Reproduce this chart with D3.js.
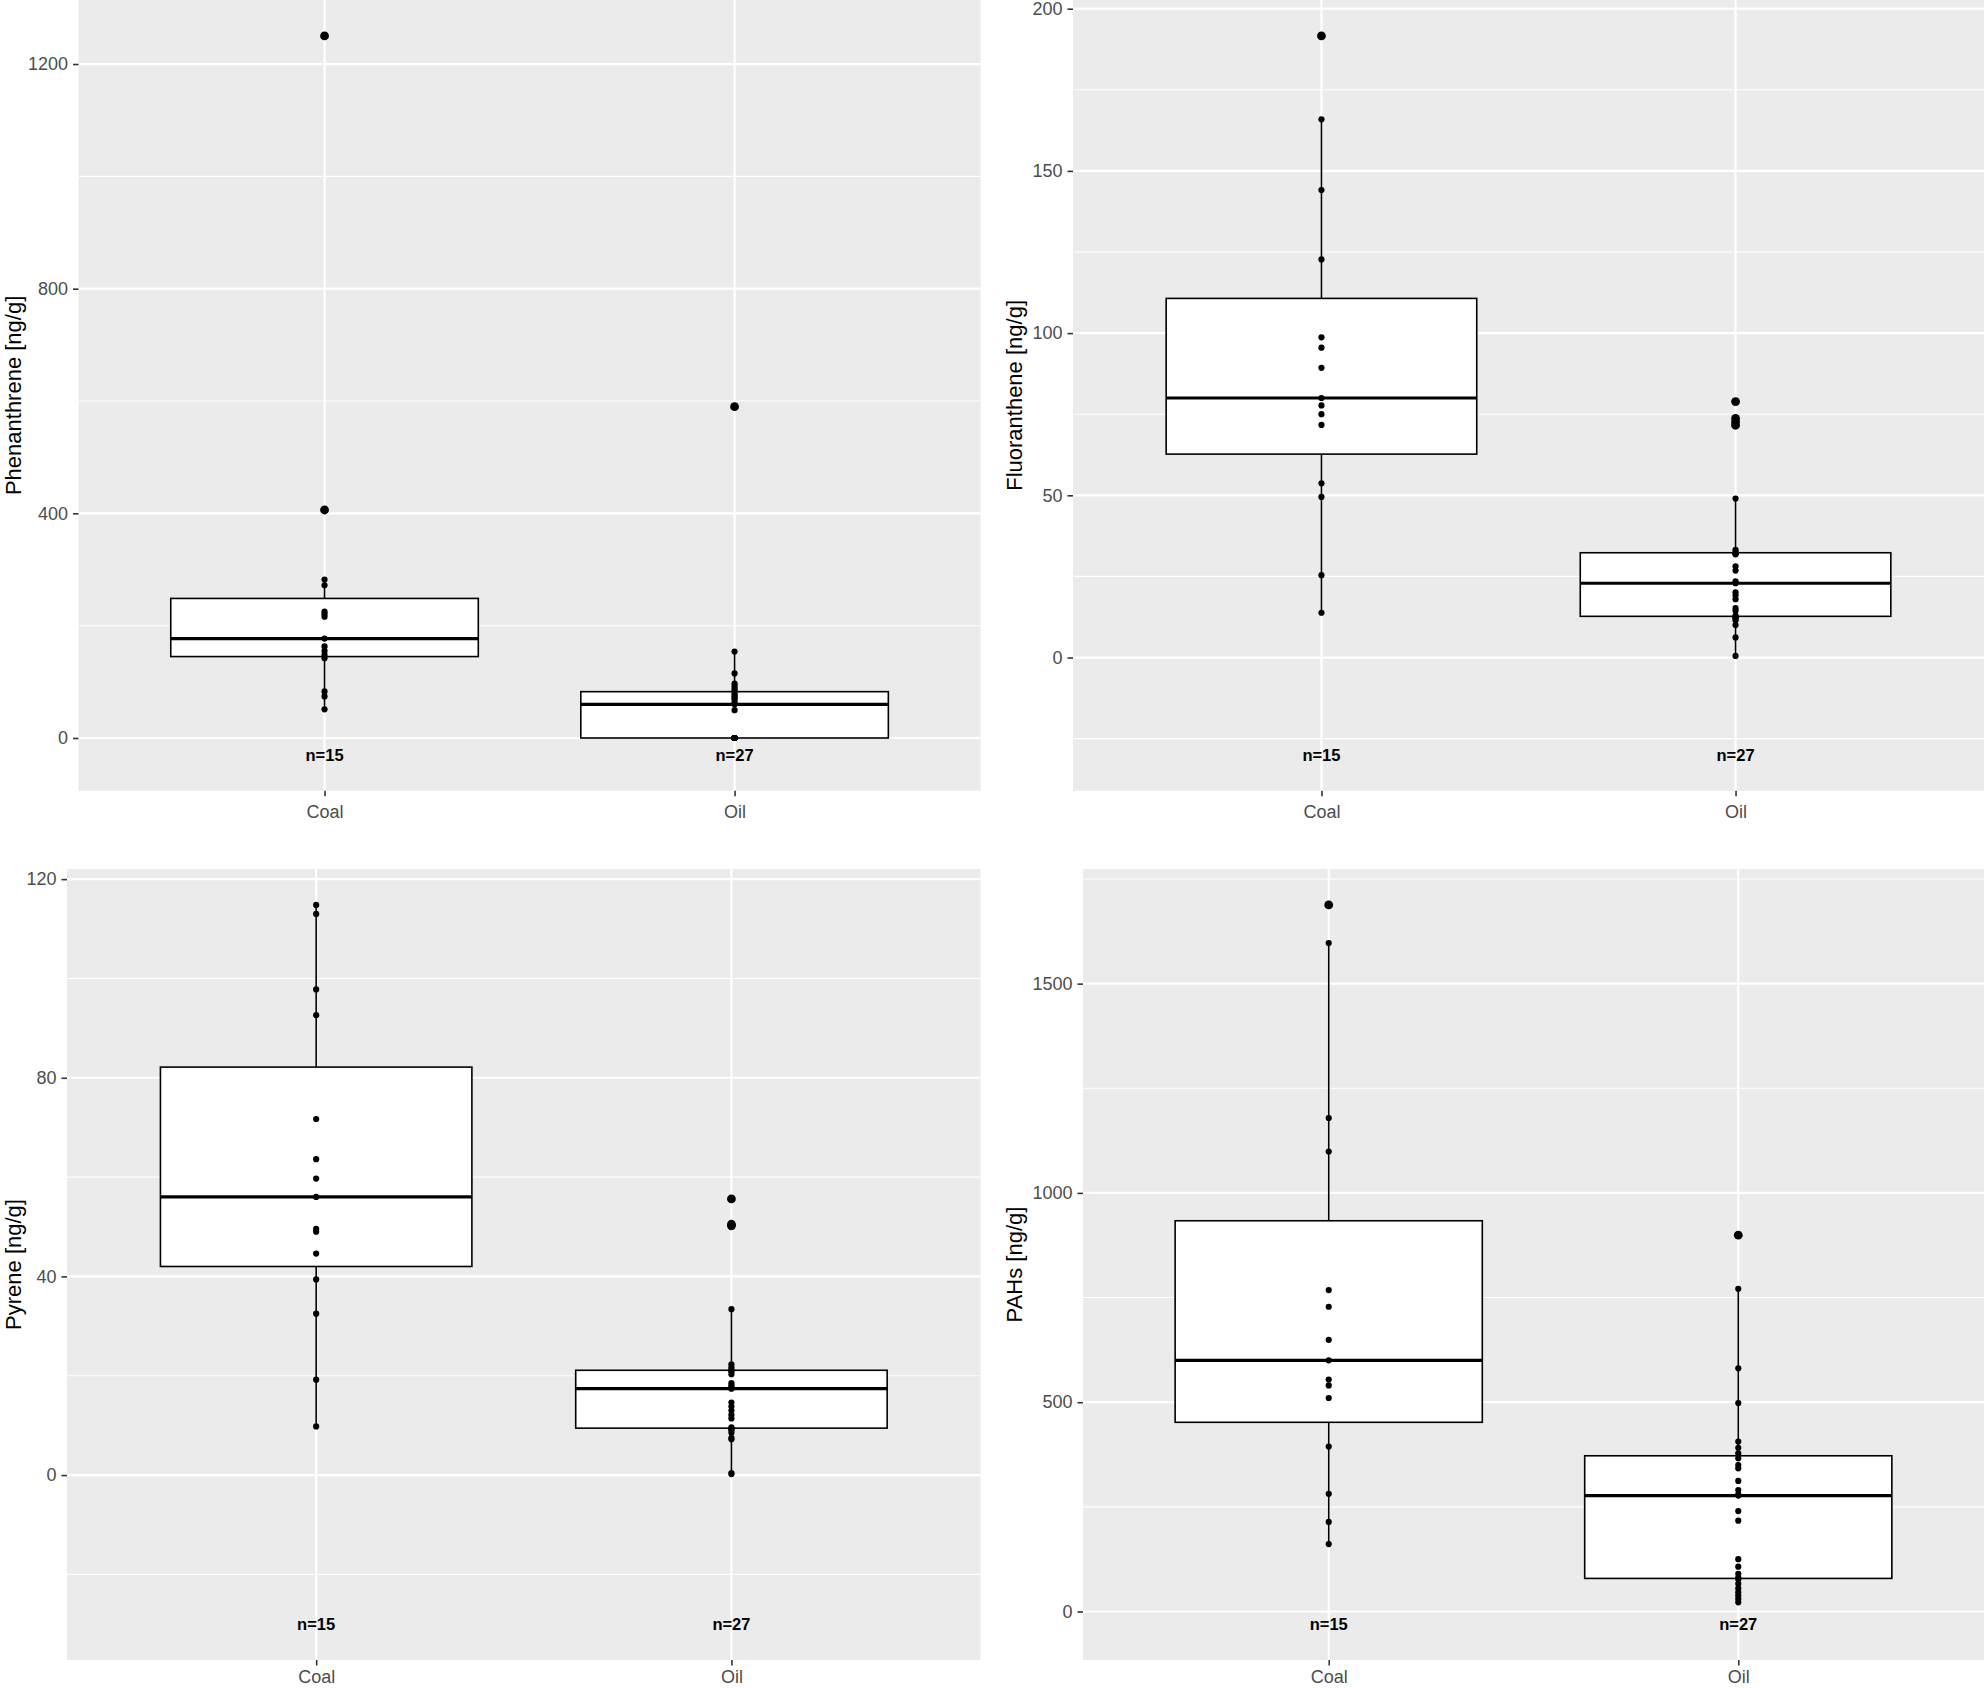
<!DOCTYPE html>
<html>
<head>
<meta charset="utf-8">
<script src="https://cdn.jsdelivr.net/npm/d3@7"></script>
<style>
  body { margin: 0; background: #fff; }
  svg { display: block; font-family: "Liberation Sans", Arial, sans-serif; }
</style>
</head>
<body>
<svg id="chart"></svg>
<script>
// categories
var groups = ["Coal", "Oil"];

var phenCoal = [51, 74, 83, 142, 148, 155, 163, 177, 216, 221, 225, 272, 282, 406, 1250];
var phenOil = [0, 0, 0, 0, 0, 0, 0, 0, 0, 0, 0, 0, 49.5, 60, 63, 68, 71, 74, 77, 80, 85, 89, 93, 97, 115, 154, 590];

var fluoCoal = [13.8, 25.4, 49.5, 53.7, 71.7, 75, 77.7, 80, 89.3, 95.5, 98.7, 122.7, 144.1, 165.9, 191.6];
var fluoOil = [0.5, 6.2, 10, 11.5, 12.1, 12.4, 12.5, 12.9, 14.4, 15.2, 18.0, 19.2, 20.1, 22.9,
               23.5, 26.8, 28.1, 31.8, 32.0, 32.1, 32.5, 33.2, 49, 71.6, 72.6, 73.7, 78.9];

var pyrCoal = [9.8, 19.2, 32.5, 39.4, 44.6, 49.0, 49.6, 56, 59.7, 63.6, 71.7, 92.6, 97.8, 113, 114.8];
var pyrOil = [0.2, 0.4, 7.2, 7.5, 8.5, 9.0, 9.3, 9.6, 11.4, 12.1, 13, 13.8, 14.6, 17.4,
              17.7, 18.0, 18.5, 20.3, 20.8, 21.0, 21.2, 21.7, 22.3, 33.4, 50.2, 50.5, 55.6];

var pahCoal = [161, 214, 281, 394, 510, 540, 554, 600, 649, 728, 768, 1099, 1179, 1597, 1688];
var pahOil = [22, 30, 38, 46, 55, 66, 77, 81, 90, 107, 125, 217, 240, 277,
              280, 290, 312, 342, 350, 366, 378, 391, 406, 498, 581, 771, 899];

// tick labels
var phenTicks = [0, 400, 800, 1200];
var fluoTicks = [0, 50, 100, 150, 200];
var pyrTicks = [0, 40, 80, 120];
var pahTicks = [0, 500, 1000, 1500];

var yTitles = ["Phenanthrene [ng/g]", "Fluoranthene [ng/g]", "Pyrene [ng/g]", "PAHs [ng/g]"];
var countLabelY = -30;

var width = 1984,
    height = 1688;

var svg = d3.select('#chart').attr('width', width).attr('height', height);
svg.append('rect').attr('width', width).attr('height', height).attr('fill', '#fff');

var panels = [
  {coal: phenCoal, oil: phenOil, ticks: phenTicks, title: yTitles[0], left: 78.5, right: 980.6, top: 0, bottom: 790.8, titleX: 20.5, xPad: 8.5},
  {coal: fluoCoal, oil: fluoOil, ticks: fluoTicks, title: yTitles[1], left: 1073, right: 1984, top: 0, bottom: 790.8, titleX: 1022, xPad: 8.5},
  {coal: pyrCoal, oil: pyrOil, ticks: pyrTicks, title: yTitles[2], left: 67, right: 980.6, top: 869, bottom: 1660, titleX: 20.5, xPad: 5},
  {coal: pahCoal, oil: pahOil, ticks: pahTicks, title: yTitles[3], left: 1083, right: 1984, top: 869, bottom: 1660, titleX: 1022, xPad: 5}
];

function boxStats(values) {
  var s = values.slice().sort(d3.ascending);
  var q1 = d3.quantile(s, 0.25),
      med = d3.quantile(s, 0.5),
      q3 = d3.quantile(s, 0.75),
      iqr = q3 - q1,
      lo = q1 - 1.5 * iqr,
      hi = q3 + 1.5 * iqr;
  var inside = s.filter(function(v) { return v >= lo && v <= hi; });
  return {
    q1: q1, med: med, q3: q3,
    wlo: d3.min(inside), whi: d3.max(inside),
    out: s.filter(function(v) { return v < lo || v > hi; })
  };
}

function drawPanel(p) {
  var series = [p.coal, p.oil];
  var all = p.coal.concat(p.oil);
  var lo = Math.min(countLabelY, d3.min(all)),
      hi = d3.max(all),
      pad = (hi - lo) * 0.05;

  var x = d3.scalePoint().domain(groups).range([p.left, p.right]).padding(0.6);
  var y = d3.scaleLinear().domain([lo - pad, hi + pad]).range([p.bottom, p.top]);
  var boxW = x.step() * 0.75;

  var g = svg.append('g');

  // panel background
  g.append('rect')
    .attr('x', p.left).attr('y', p.top)
    .attr('width', p.right - p.left).attr('height', p.bottom - p.top)
    .attr('fill', '#ebebeb');

  // minor grid: halfway between breaks, one step past both ends
  var step = p.ticks[1] - p.ticks[0];
  var minor = d3.range(p.ticks[0] - step / 2, p.ticks[p.ticks.length - 1] + step, step)
    .filter(function(v) { return v >= y.domain()[0] && v <= y.domain()[1]; });

  g.selectAll('.minor').data(minor).enter().append('line')
    .attr('x1', p.left).attr('x2', p.right)
    .attr('y1', function(d) { return y(d); }).attr('y2', function(d) { return y(d); })
    .attr('stroke', '#fff').attr('stroke-width', 1.1);

  g.selectAll('.major').data(p.ticks).enter().append('line')
    .attr('x1', p.left).attr('x2', p.right)
    .attr('y1', function(d) { return y(d); }).attr('y2', function(d) { return y(d); })
    .attr('stroke', '#fff').attr('stroke-width', 2.2);

  g.selectAll('.vmajor').data(groups).enter().append('line')
    .attr('x1', function(d) { return x(d); }).attr('x2', function(d) { return x(d); })
    .attr('y1', p.top).attr('y2', p.bottom)
    .attr('stroke', '#fff').attr('stroke-width', 2.2);

  series.forEach(function(vals, i) {
    var cx = x(groups[i]);
    var st = boxStats(vals);

    // whiskers
    g.append('line')
      .attr('x1', cx).attr('x2', cx).attr('y1', y(st.q3)).attr('y2', y(st.whi))
      .attr('stroke', '#000').attr('stroke-width', 1.6);
    g.append('line')
      .attr('x1', cx).attr('x2', cx).attr('y1', y(st.q1)).attr('y2', y(st.wlo))
      .attr('stroke', '#000').attr('stroke-width', 1.6);

    // box
    g.append('rect')
      .attr('x', cx - boxW / 2).attr('width', boxW)
      .attr('y', y(st.q3)).attr('height', Math.max(0, y(st.q1) - y(st.q3)))
      .attr('fill', '#fff').attr('stroke', '#000').attr('stroke-width', 1.6);

    // median
    g.append('line')
      .attr('x1', cx - boxW / 2).attr('x2', cx + boxW / 2)
      .attr('y1', y(st.med)).attr('y2', y(st.med))
      .attr('stroke', '#000').attr('stroke-width', 3.2);

    // boxplot outliers
    g.selectAll(null).data(st.out).enter().append('circle')
      .attr('cx', cx).attr('cy', function(d) { return y(d); })
      .attr('r', 4.4).attr('fill', '#000');

    // raw points
    g.selectAll(null).data(vals).enter().append('circle')
      .attr('cx', cx).attr('cy', function(d) { return y(d); })
      .attr('r', 3.1).attr('fill', '#000');

    // count label
    g.append('text')
      .attr('x', cx).attr('y', y(countLabelY))
      .attr('text-anchor', 'middle').attr('dominant-baseline', 'central')
      .attr('font-size', 16.5).attr('font-weight', 'bold').attr('fill', '#000')
      .text('n=' + vals.length);
  });

  // axes
  var ya = g.append('g')
    .attr('transform', 'translate(' + p.left + ',0)')
    .call(d3.axisLeft(y).tickValues(p.ticks).tickSize(5.5).tickPadding(5).tickFormat(d3.format('d')));
  var xa = g.append('g')
    .attr('transform', 'translate(0,' + p.bottom + ')')
    .call(d3.axisBottom(x).tickSize(5.5).tickPadding(p.xPad));

  [ya, xa].forEach(function(a) {
    a.select('.domain').remove();
    a.selectAll('.tick line').attr('stroke', '#333').attr('stroke-width', 1.6);
    a.selectAll('.tick text').attr('fill', '#4d4d4d').attr('font-size', 18)
      .attr('font-family', '"Liberation Sans", Arial, sans-serif');
  });

  // y title
  g.append('text')
    .attr('transform', 'translate(' + p.titleX + ',' + ((p.top + p.bottom) / 2) + ') rotate(-90)')
    .attr('text-anchor', 'middle')
    .attr('font-size', 22).attr('fill', '#000')
    .text(p.title);
}

panels.forEach(drawPanel);
</script>
</body>
</html>
